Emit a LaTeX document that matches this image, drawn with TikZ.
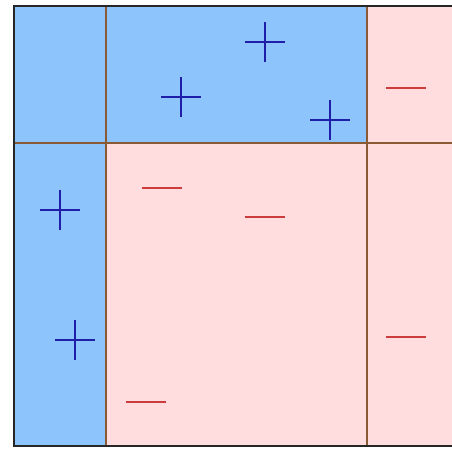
\documentclass[tikz,border=0pt]{standalone}
\begin{document}
\begin{tikzpicture}[x=1pt,y=-1pt,
    plusmark/.style={draw=plusblue,line width=1.7pt},
    minusmark/.style={draw=minusred,line width=1.7pt}]
    \definecolor{cellblue}{HTML}{8EC4FC}
    \definecolor{cellpink}{HTML}{FFDCDD}
    \definecolor{gridbrown}{HTML}{8A5A35}
    \definecolor{plusblue}{HTML}{1E1EA8}
    \definecolor{minusred}{HTML}{CC3C3C}
    \useasboundingbox (0,0) rectangle (452,448);

    % Fill the cells
    \fill[cellpink] (14,6) rectangle (452,446);
    \fill[cellblue] (14,6) rectangle (367,143);
    \fill[cellblue] (14,143) rectangle (106,446);

    % Inner grid lines
    \draw[gridbrown,line width=1.5pt] (106,6) -- (106,446);
    \draw[gridbrown,line width=1.5pt] (367,6) -- (367,446);
    \draw[gridbrown,line width=1.5pt] (14,143) -- (452,143);

    % Outer border (open on the right)
    \draw[black!85,line width=2.2pt] (452,6) -- (14,6) -- (14,446) -- (452,446);

    % Plus signs
    \foreach \px/\py in {265/42, 181/97, 330/120, 60/210, 75/340}
        \draw[plusmark] (\px-20,\py) -- (\px+20,\py) (\px,\py-20) -- (\px,\py+20);

    % Minus signs
    \foreach \mx/\my in {406/88, 162/188, 265/217, 406/337, 146/402}
        \draw[minusmark] (\mx-20,\my) -- (\mx+20,\my);
\end{tikzpicture}
\end{document}
